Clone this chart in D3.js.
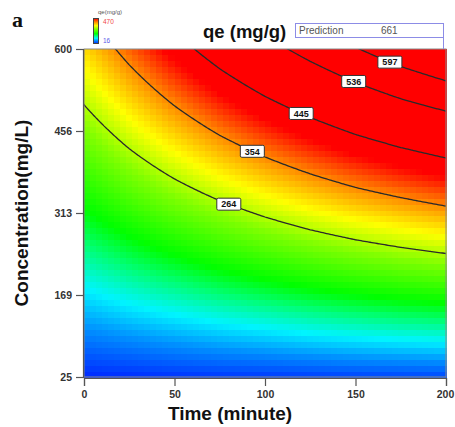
<!DOCTYPE html>
<html>
<head>
<meta charset="utf-8">
<script src="https://cdn.jsdelivr.net/npm/d3@7"></script>
<style>
body { margin: 0; background: #fff; }
svg { display: block; }
</style>
</head>
<body>
<svg width="455" height="427"></svg>
<script>
// time (minute) columns and concentration (mg/L) rows of the surface
const times = [0, 25, 50, 75, 100, 125, 150, 175, 200];
const concentrations = [25, 168.75, 312.5, 456.25, 600];
// qe (mg/g), one array per concentration row
const qe25  = [16, 18, 21, 23, 24, 26, 28, 29, 30];
const qe169 = [91, 107, 121, 135, 147, 159, 169, 178, 185];
const qe313 = [166, 195, 222, 247, 270, 291, 310, 326, 341];
const qe456 = [240, 283, 323, 360, 393, 423, 451, 475, 496];
const qe600 = [315, 371, 424, 472, 516, 556, 594, 630, 661];
const qeRows = [qe25, qe169, qe313, qe456, qe600];

const xTicks = [0, 50, 100, 150, 200];
const yTicks = [25, 168.75, 312.5, 456.25, 600];
const yTickLabels = ["25", "169", "313", "456", "600"];
const contourLevels = [264, 354, 445, 536, 597];
const labelTimes = [80, 93, 120, 149, 169]; // where each contour label sits
const legendRange = [16, 470];
const prediction = 661;

const svg = d3.select("svg");
const margin = { top: 49, right: 9, bottom: 50, left: 84 };
const width = +svg.attr("width");
const height = +svg.attr("height");
const innerWidth = width - margin.left - margin.right;
const innerHeight = height - margin.top - margin.bottom;
const font = "Liberation Sans, Arial, sans-serif";

const xScale = d3.scaleLinear().domain([0, 200]).range([0, innerWidth]);
const yScale = d3.scaleLinear().domain([25, 600]).range([innerHeight, 0]);

// Design-Expert style spectrum, blue (low) to red (high)
const span = legendRange[1] - legendRange[0];
const colorStops = [0, 0.1, 0.18, 0.27, 0.34, 0.5, 0.62, 0.74, 0.87];
const colorScale = d3.scaleLinear()
	.domain(colorStops.map(s => legendRange[0] + s * span))
	.range(["#0028ff", "#0090ff", "#00f4ff", "#00ff70", "#00ff00", "#80ff00", "#ffff00", "#ff9000", "#ff0000"])
	.clamp(true);

// surface value between the read grid points
const qeAt = (t, c) => {
	const i = Math.min(times.length - 2, Math.max(0, d3.bisectRight(times, t) - 1));
	const j = Math.min(concentrations.length - 2, Math.max(0, d3.bisectRight(concentrations, c) - 1));
	const ft = (t - times[i]) / (times[i + 1] - times[i]);
	const fc = (c - concentrations[j]) / (concentrations[j + 1] - concentrations[j]);
	const a = qeRows[j][i] * (1 - ft) + qeRows[j][i + 1] * ft;
	const b = qeRows[j + 1][i] * (1 - ft) + qeRows[j + 1][i + 1] * ft;
	return a * (1 - fc) + b * fc;
};

const group = svg.append("g")
	.attr("transform", `translate(${margin.left}, ${margin.top})`);

svg.append("defs").append("clipPath").attr("id", "plot-clip")
	.append("rect").attr("width", innerWidth).attr("height", innerHeight);

// heat map blocks
const nx = 60, ny = 55;
const cells = [];
for (let j = 0; j < ny; j++) {
	for (let i = 0; i < nx; i++) {
		const t0 = i * 200 / nx, t1 = (i + 1) * 200 / nx;
		const c0 = 25 + j * 575 / ny, c1 = 25 + (j + 1) * 575 / ny;
		cells.push({ t0, t1, c0, c1, v: qeAt((t0 + t1) / 2, (c0 + c1) / 2) });
	}
}
group.append("g").attr("shape-rendering", "crispEdges")
	.selectAll("rect").data(cells)
	.enter().append("rect")
		.attr("x", d => xScale(d.t0))
		.attr("y", d => yScale(d.c1))
		.attr("width", d => xScale(d.t1) - xScale(d.t0) + 0.5)
		.attr("height", d => yScale(d.c0) - yScale(d.c1) + 0.5)
		.attr("fill", d => colorScale(d.v));

// contour lines
const gx = 201, gy = 176;
const field = new Array(gx * gy);
for (let j = 0; j < gy; j++) {
	for (let i = 0; i < gx; i++) {
		field[j * gx + i] = qeAt(i * 200 / (gx - 1), 600 - j * 575 / (gy - 1));
	}
}
const contours = d3.contours().size([gx, gy]).thresholds(contourLevels)(field);
const gridToPixel = d3.geoTransform({
	point(x, y) {
		const t = (x - 0.5) * 200 / (gx - 1);
		const c = 600 - (y - 0.5) * 575 / (gy - 1);
		this.stream.point(xScale(t), yScale(c));
	}
});
group.append("g").attr("clip-path", "url(#plot-clip)")
	.selectAll("path").data(contours)
	.enter().append("path")
		.attr("d", d3.geoPath(gridToPixel))
		.attr("fill", "none")
		.attr("stroke", "#2a2a2a")
		.attr("stroke-width", 1.3);

// plot frame
group.append("rect")
	.attr("width", innerWidth).attr("height", innerHeight)
	.attr("fill", "none").attr("stroke", "#8a8a8a").attr("stroke-width", 1);

// contour labels
const labels = contourLevels.map((level, k) => {
	const t = labelTimes[k];
	let lo = 25, hi = 600;
	for (let n = 0; n < 40; n++) {
		const mid = (lo + hi) / 2;
		if (qeAt(t, mid) < level) lo = mid; else hi = mid;
	}
	return { level, t, c: (lo + hi) / 2 };
});
const labelG = group.append("g").selectAll("g").data(labels)
	.enter().append("g")
		.attr("transform", d => `translate(${xScale(d.t)}, ${yScale(d.c)})`);
labelG.append("rect")
	.attr("x", -12).attr("y", -6).attr("width", 24).attr("height", 12)
	.attr("rx", 1.5)
	.attr("fill", "#fff").attr("stroke", "#333").attr("stroke-width", 1);
labelG.append("text")
	.attr("text-anchor", "middle").attr("dy", "0.36em")
	.attr("font-family", font)
	.attr("font-weight", "bold").attr("font-size", 9).attr("fill", "#111")
	.text(d => d.level);

// axes
const yAxis = d3.axisLeft(yScale).tickValues(yTicks)
	.tickFormat((d, i) => yTickLabels[i]).tickSizeOuter(0).tickSize(7).tickPadding(4);
const xAxis = d3.axisBottom(xScale).tickValues(xTicks)
	.tickSizeOuter(0).tickSize(8).tickPadding(5);

const yAxisG = group.append("g").attr("transform", "translate(-1, 0)").call(yAxis);
const xAxisG = group.append("g").attr("transform", `translate(0, ${innerHeight + 1})`).call(xAxis);
[yAxisG, xAxisG].forEach(g => {
	g.selectAll("path, line").attr("stroke", "#555").attr("stroke-width", 1.2);
	g.selectAll("text")
		.attr("font-family", font)
		.attr("font-weight", "bold").attr("font-size", 10.5).attr("fill", "#333");
});
xAxisG.selectAll(".tick:last-of-type text").attr("dx", -1);

// axis titles
svg.append("text")
	.attr("x", 230).attr("y", 420)
	.attr("text-anchor", "middle")
	.attr("font-family", font)
	.attr("font-weight", "bold").attr("font-size", 19).attr("fill", "#111")
	.text("Time (minute)");
svg.append("text")
	.attr("transform", "translate(28, 213) rotate(-90)")
	.attr("text-anchor", "middle")
	.attr("font-family", font)
	.attr("font-weight", "bold").attr("font-size", 19).attr("fill", "#111")
	.text("Concentration(mg/L)");

// title and prediction box
svg.append("text")
	.attr("x", 203).attr("y", 38)
	.attr("font-family", font)
	.attr("font-weight", "bold").attr("font-size", 18.5).attr("fill", "#111")
	.text("qe (mg/g)");
svg.append("rect")
	.attr("x", 295.5).attr("y", 23.5).attr("width", 148).attr("height", 14)
	.attr("fill", "none").attr("stroke", "#8c8ce6").attr("stroke-width", 1);
svg.append("line")
	.attr("x1", 443.5).attr("x2", 443.5).attr("y1", 37.5).attr("y2", 49)
	.attr("stroke", "#8c8ce6").attr("stroke-width", 1);
svg.append("text")
	.attr("x", 299).attr("y", 34)
	.attr("font-family", font)
	.attr("font-size", 10).attr("fill", "#555")
	.text("Prediction");
svg.append("text")
	.attr("x", 381).attr("y", 34)
	.attr("font-family", font)
	.attr("font-size", 10).attr("fill", "#555")
	.text(prediction);

// colour legend
const grad = svg.select("defs").append("linearGradient")
	.attr("id", "legend-grad").attr("x1", 0).attr("x2", 0).attr("y1", 1).attr("y2", 0);
colorStops.forEach(s => {
	grad.append("stop").attr("offset", s / 0.87 * 100 + "%")
		.attr("stop-color", colorScale(legendRange[0] + s * span));
});
svg.append("rect")
	.attr("x", 93.5).attr("y", 18.5).attr("width", 5).attr("height", 25)
	.attr("fill", "url(#legend-grad)").attr("stroke", "#444").attr("stroke-width", 1);
svg.append("text")
	.attr("x", 110).attr("y", 14).attr("text-anchor", "middle")
	.attr("font-family", font)
	.attr("font-size", 6).attr("fill", "#555")
	.text("qe(mg/g)");
svg.append("text")
	.attr("x", 103).attr("y", 24)
	.attr("font-family", font)
	.attr("font-size", 6.5).attr("fill", "#f04848")
	.text(legendRange[1]);
svg.append("text")
	.attr("x", 103).attr("y", 43)
	.attr("font-family", font)
	.attr("font-size", 6.5).attr("fill", "#5a5ae8")
	.text(legendRange[0]);

// panel letter
svg.append("text")
	.attr("x", 12).attr("y", 27)
	.attr("font-family", "Liberation Serif, Times New Roman, serif")
	.attr("font-weight", "bold").attr("font-size", 22).attr("fill", "#111")
	.text("a");
</script>
</body>
</html>
